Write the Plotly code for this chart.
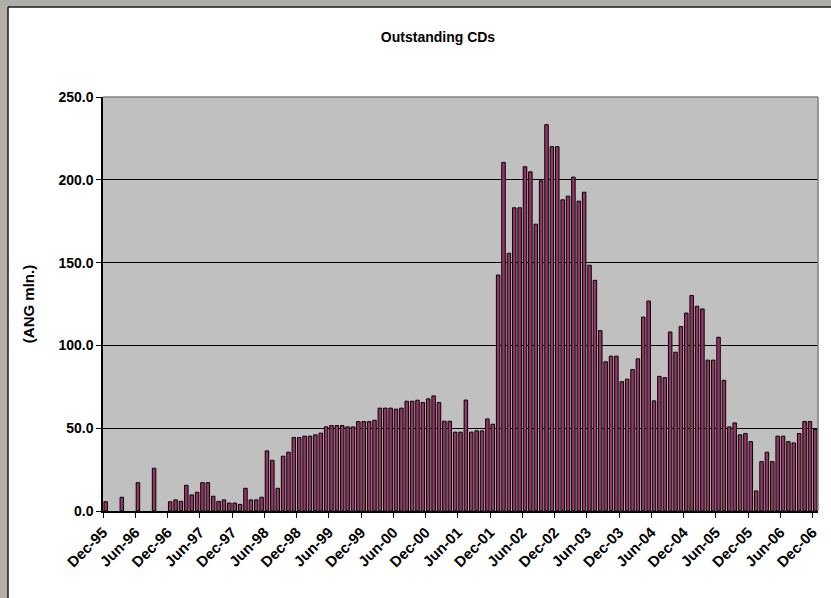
import pandas as pd
import plotly.graph_objects as go

# Monthly outstanding certificates of deposit, Dec-1995 .. Dec-2006 (ANG mln.)
months = list(pd.period_range("1995-12", "2006-12", freq="M").strftime("%b-%y"))

outstanding = [
    5.6, None, None, 8.3, None, None, 17.1, None, None, 25.8, None, None,
    5.6, 6.7, 5.8, 15.5, 9.7, 11.3, 17.1, 17.1, 8.9, 5.8, 6.7, 4.8,
    4.8, 4.0, 13.7, 6.7, 6.7, 8.3, 36.3, 30.6, 13.7, 33.1, 35.5, 44.4,
    44.4, 45.2, 45.2, 46.0, 47.0, 50.8, 51.6, 51.6, 51.6, 50.8, 50.8, 54.0,
    54.0, 54.0, 54.8, 62.1, 62.1, 62.1, 61.5, 62.1, 66.3, 66.3, 66.9, 65.5,
    67.7, 69.5, 65.5, 54.2, 54.2, 47.6, 47.6, 67.0, 47.6, 48.4, 48.4, 55.6,
    52.4, 142.5, 210.5, 155.6, 183.1, 183.1, 207.9, 204.8, 173.2, 199.4, 233.3, 220.0,
    220.0, 187.9, 190.1, 201.6, 187.1, 192.5, 148.4, 139.3, 108.9, 90.1, 93.5, 93.5,
    78.1, 79.6, 85.4, 91.9, 117.1, 126.8, 66.5, 81.3, 80.5, 108.1, 95.9, 111.4,
    119.5, 130.1, 123.6, 122.0, 91.1, 91.1, 104.9, 78.9, 50.8, 53.2, 46.0, 46.8,
    41.9, 12.1, 29.8, 35.5, 29.8, 45.2, 45.2, 41.9, 41.1, 46.8, 54.0, 54.0,
    49.2,
]

tick_labels = [
    "Dec-95", "Jun-96", "Dec-96", "Jun-97", "Dec-97", "Jun-98", "Dec-98",
    "Jun-99", "Dec-99", "Jun-00", "Dec-00", "Jun-01", "Dec-01", "Jun-02",
    "Dec-02", "Jun-03", "Dec-03", "Jun-04", "Dec-04", "Jun-05", "Dec-05",
    "Jun-06", "Dec-06",
]

y_ticks = [0, 50, 100, 150, 200, 250]

positions = list(range(len(outstanding)))
# tick marks sit on the boundary before every sixth month
tick_positions = [6 * k - 0.5 for k in range(len(tick_labels))]

W, H = 831, 598
ML, MR, MT, MB = 103, 13, 97, 87
PW, PH = W - ML - MR, H - MT - MB


def px_x(px):
    return (px - ML) / PW


def px_y(py):
    return (H - MB - py) / PH


FONT = "Liberation Sans, Arial, sans-serif"

fig = go.Figure(
    go.Bar(
        x=positions,
        y=outstanding,
        text=months,
        textposition="none",
        hovertemplate="%{text}: %{y:.1f}<extra></extra>",
        marker=dict(color="#993366", line=dict(color="#000000", width=1)),
    )
)

frame = "#b4b0a5"
shapes = [
    # textured surround outside the chart area
    dict(type="rect", xref="paper", yref="paper", x0=px_x(-5), x1=px_x(8),
         y0=px_y(H + 5), y1=px_y(-5), fillcolor=frame, line=dict(width=0), layer="below"),
    dict(type="rect", xref="paper", yref="paper", x0=px_x(-5), x1=px_x(W + 5),
         y0=px_y(7), y1=px_y(-5), fillcolor="#aeaea8", line=dict(width=0), layer="below"),
    # chart area border
    dict(type="line", xref="paper", yref="paper", x0=px_x(8), x1=px_x(8),
         y0=px_y(H + 5), y1=px_y(7), line=dict(color="#1a1a1a", width=1.5)),
    dict(type="line", xref="paper", yref="paper", x0=px_x(8), x1=px_x(W + 5),
         y0=px_y(7), y1=px_y(7), line=dict(color="#1a1a1a", width=1.5)),
    # grey top/right edge of the plot area
    dict(type="line", xref="paper", yref="paper", x0=0, x1=1, y0=1, y1=1,
         line=dict(color="#808080", width=1.5), layer="above"),
    dict(type="line", xref="paper", yref="paper", x0=1, x1=1, y0=0, y1=1,
         line=dict(color="#808080", width=1.5), layer="above"),
]

fig.update_layout(
    width=W,
    height=H,
    margin=dict(l=ML, r=MR, t=MT, b=MB),
    paper_bgcolor="#ffffff",
    plot_bgcolor="#c0c0c0",
    bargap=0.35,
    showlegend=False,
    font=dict(family=FONT, size=13, color="#000000"),
    title=dict(
        text="<b>Outstanding CDs</b>",
        x=438 / W,
        xanchor="center",
        y=1 - 37 / H,
        yanchor="middle",
        font=dict(family=FONT, size=14, color="#000000"),
    ),
    xaxis=dict(
        range=[-0.5, len(outstanding) - 0.5],
        tickmode="array",
        tickvals=tick_positions,
        ticktext=tick_labels,
        tickangle=-45,
        ticks="outside",
        ticklen=5,
        tickcolor="#000000",
        showgrid=False,
        zeroline=False,
        showline=True,
        linecolor="#000000",
        linewidth=1.5,
        tickfont=dict(family=FONT, size=15, color="#000000"),
    ),
    yaxis=dict(
        range=[0, 250],
        tickmode="array",
        tickvals=y_ticks,
        tickformat=".1f",
        ticks="outside",
        ticklen=5,
        tickcolor="#000000",
        showgrid=True,
        gridcolor="#000000",
        gridwidth=1,
        zeroline=False,
        showline=True,
        linecolor="#000000",
        linewidth=1.5,
        tickfont=dict(family=FONT, size=14, color="#000000"),
        title=dict(
            text="<b>(ANG mln.)</b>",
            font=dict(family=FONT, size=15, color="#000000"),
            standoff=20,
        ),
    ),
    shapes=shapes,
)

fig.update_xaxes(tickfont_weight="bold")
fig.update_yaxes(tickfont_weight="bold")

fig.write_html("out.html")
